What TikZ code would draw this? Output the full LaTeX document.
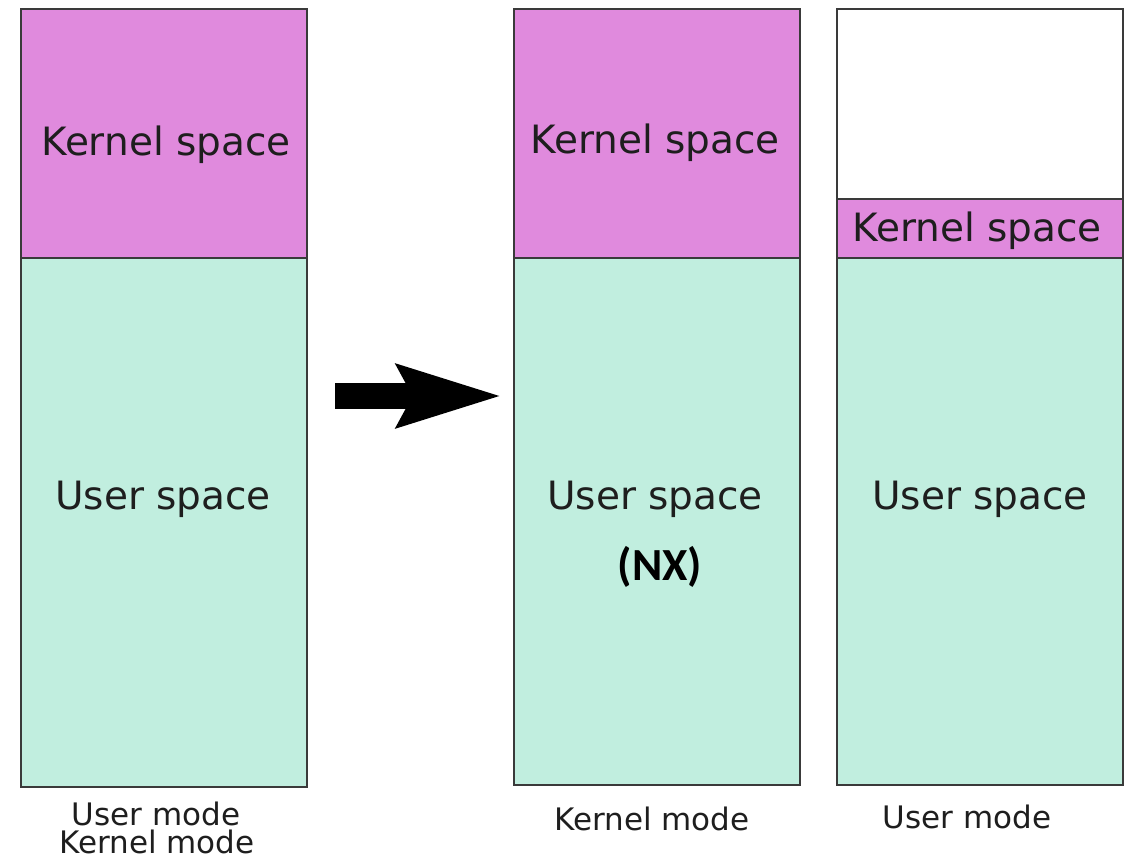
\documentclass[tikz,border=0pt]{standalone}
\usepackage{fontspec}
\setmainfont{DejaVu Sans}
\newfontfamily\nxfont{Carlito}
\usetikzlibrary{arrows.meta}
\definecolor{kpink}{HTML}{E08ADD}
\definecolor{umint}{HTML}{C1EEDF}
\definecolor{edge}{HTML}{3A3A3A}
\definecolor{txt}{HTML}{1E1E1E}
\begin{document}
\begin{tikzpicture}[x=1pt,y=-1pt,
  region/.style={draw=edge,line width=2pt},
  lbl/.style={anchor=base,inner sep=0pt,text=txt,font=\fontsize{39}{47}\selectfont},
  modelbl/.style={anchor=base,inner sep=0pt,text=txt,font=\fontsize{31}{30}\selectfont}]
\useasboundingbox[fill=white] (0,0) rectangle (1129,862);
% left column
\filldraw[region,fill=kpink] (21,9) rectangle (307,258);
\filldraw[region,fill=umint] (21,258) rectangle (307,787);
\node[lbl] (k1) at (166,155) {Kernel space};
\node[lbl] (u1) at (163,509) {User space};
\node[modelbl] (m1a) at (156,825) {User mode};
\node[modelbl] (m1b) at (157,853) {Kernel mode};
% middle column
\filldraw[region,fill=kpink] (514,9) rectangle (800,258);
\filldraw[region,fill=umint] (514,258) rectangle (800,785);
\node[lbl] (k2) at (655,153) {Kernel space};
\node[lbl] (u2) at (655,509) {User space};
\node[anchor=base,inner sep=0pt,font=\nxfont\bfseries\fontsize{46}{50}\selectfont] (nx) at (660,580) {(NX)};
\node[modelbl] (m2) at (652,830) {Kernel mode};
% right column
\filldraw[region,fill=white] (837,9) rectangle (1123,199);
\filldraw[region,fill=kpink] (837,199) rectangle (1123,258);
\filldraw[region,fill=umint] (837,258) rectangle (1123,785);
\node[lbl] (k3) at (977,241) {Kernel space};
\node[lbl] (u3) at (980,509) {User space};
\node[modelbl] (m3) at (967,828) {User mode};
% arrow
\coordinate (as) at (335,396);
\coordinate (ae) at (502,396);
\draw[line width=26pt,line cap=butt,-{Stealth[length=103pt,width=60pt,inset=14pt]}] (as) -- (ae);
\end{tikzpicture}
\end{document}
